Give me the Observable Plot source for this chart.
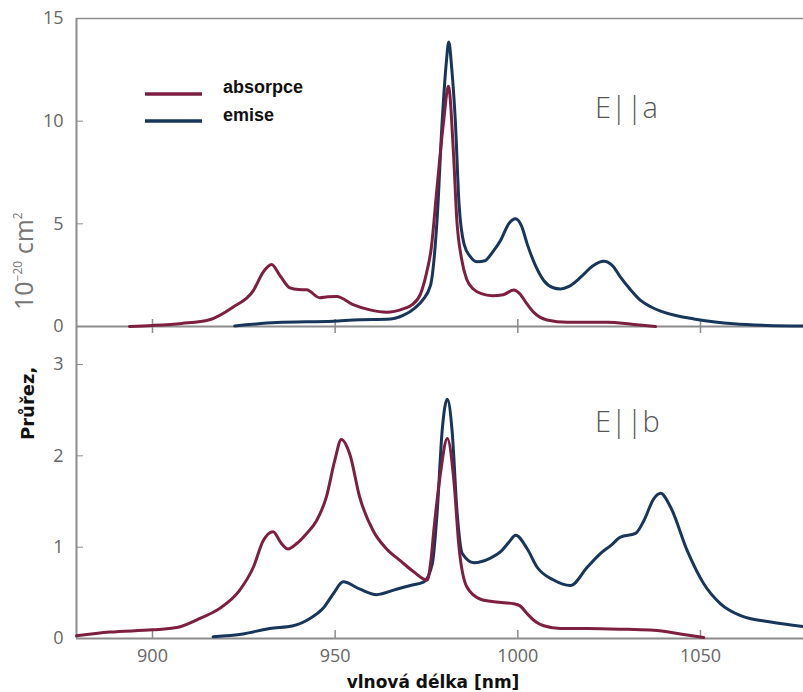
<!DOCTYPE html>
<html><head><meta charset="utf-8">
<script src="https://cdn.jsdelivr.net/npm/d3@7"></script>
<script src="https://cdn.jsdelivr.net/npm/@observablehq/plot@0.6"></script>
<style>
body{margin:0;background:#fff}
#wrap{position:relative;width:803px;height:692px;overflow:hidden;background:#fff}
#top,#bot{position:absolute;left:0}
#top{top:0}
#bot{top:326px}
#wrap svg{overflow:visible;background:transparent}
</style></head><body>
<div id="wrap">
  <div id="bot"></div>
  <div id="top"></div>
  <svg id="ov" width="803" height="692" style="position:absolute;left:0;top:0;pointer-events:none">
    <line x1="145" x2="202" y1="94" y2="94" stroke="#7d1f40" stroke-width="3.5"/>
    <line x1="145" x2="202" y1="121" y2="121" stroke="#17365a" stroke-width="3.5"/>
    <text x="223" y="93" font-family="Liberation Sans, Arial, sans-serif" font-weight="bold" font-size="18" fill="#111">absorpce</text>
    <text x="223" y="121" font-family="Liberation Sans, Arial, sans-serif" font-weight="bold" font-size="18" fill="#111">emise</text>
    <text x="595" y="118" font-family="Open Sans, sans-serif" font-weight="300" font-size="29" fill="#555">E||a</text>
    <text x="595" y="432" font-family="Open Sans, sans-serif" font-weight="300" font-size="29" fill="#555">E||b</text>
    <text transform="translate(34,440) rotate(-90)" font-family="DejaVu Sans, sans-serif" font-weight="bold" font-size="18" fill="#111">Průřez,</text>
    <text transform="translate(33,310) rotate(-90)" font-family="Open Sans, sans-serif" font-size="25" fill="#777">10<tspan font-size="12" dy="-11">−20</tspan><tspan dy="11"> cm</tspan><tspan font-size="12" dy="-11">2</tspan></text>
    <text x="433" y="688" text-anchor="middle" font-family="DejaVu Sans, sans-serif" font-weight="bold" font-size="17" fill="#111">vlnová délka [nm]</text>
  </svg>
</div>
<script>
// ---- data (wavelength nm, cross-section 1e-20 cm^2) ----
const xTicks = [900, 950, 1000, 1050];
const yTicksA = [0, 5, 10, 15];
const yTicksB = [0, 1, 2, 3];

// E||a absorption
const aAbsX = [893.7, 900, 908, 915.6, 922, 927.6, 930.3, 932.6, 934.9, 937.6, 940, 942.2, 945.8, 948, 950.4, 954.9, 959.5, 964.1, 968.6, 971, 973.4, 975, 976.3, 977.9, 979.7, 981.0, 982.4, 983.3, 984.6, 986, 988, 990, 993, 996, 998.9, 1000.5, 1002.5, 1004.3, 1008, 1013.5, 1024.5, 1031.7, 1037.7];
const aAbsY = [0.0, 0.05, 0.15, 0.33, 0.94, 1.75, 2.65, 3.02, 2.48, 1.88, 1.8, 1.79, 1.40, 1.45, 1.46, 1.07, 0.81, 0.70, 0.86, 1.05, 1.6, 2.6, 3.8, 6.8, 10.0, 11.7, 8.4, 5.2, 3.3, 2.3, 1.8, 1.6, 1.5, 1.55, 1.78, 1.6, 1.1, 0.70, 0.32, 0.21, 0.21, 0.10, 0.0];
// E||a emission
const aEmX = [922.5, 934, 949.5, 956.8, 964, 968.6, 971.8, 974, 976.1, 977.9, 979.3, 980.4, 981.1, 981.9, 982.9, 983.9, 985.3, 987, 988.9, 991, 993, 995.3, 997.5, 999.4, 1001, 1002.6, 1005, 1007.1, 1009.5, 1011.7, 1014, 1017.2, 1020.5, 1023.5, 1026, 1028.1, 1030.8, 1033.6, 1036.5, 1039.1, 1043.5, 1048.2, 1054, 1059.1, 1068.3, 1078.2];
const aEmY = [0.03, 0.19, 0.26, 0.33, 0.35, 0.54, 0.9, 1.3, 2.0, 5.2, 10.0, 12.8, 13.85, 12.6, 10.0, 6.0, 4.0, 3.4, 3.15, 3.2, 3.6, 4.2, 5.0, 5.25, 4.9, 4.0, 2.9, 2.24, 1.9, 1.83, 1.95, 2.4, 2.95, 3.18, 2.95, 2.4, 1.8, 1.27, 0.95, 0.75, 0.52, 0.37, 0.22, 0.13, 0.05, 0.02];
// E||b absorption
const bAbsX = [879.2, 888.3, 900, 906.6, 913, 918.4, 923.9, 927.6, 930.3, 933, 935.3, 937.1, 939.5, 942.2, 944.9, 947.6, 949.9, 951.7, 954, 956.7, 960.4, 964.1, 967.9, 971.5, 975.2, 976.2, 977, 978.8, 980.7, 982.5, 983.9, 986.1, 989.8, 994, 998.9, 1000.5, 1002.6, 1005, 1007.1, 1011.7, 1019, 1030, 1037.2, 1044.5, 1050.9];
const bAbsY = [0.03, 0.07, 0.095, 0.12, 0.22, 0.33, 0.53, 0.78, 1.07, 1.17, 1.04, 0.98, 1.04, 1.15, 1.29, 1.55, 1.95, 2.18, 2.02, 1.55, 1.18, 0.98, 0.85, 0.73, 0.64, 0.85, 1.18, 1.80, 2.19, 1.73, 1.0, 0.56, 0.43, 0.40, 0.38, 0.36, 0.27, 0.18, 0.14, 0.11, 0.11, 0.10, 0.09, 0.05, 0.01];
// E||b emission
const bEmX = [916.6, 924.8, 932.1, 938.5, 943.1, 946.7, 949.5, 952.2, 956.8, 961.3, 966.8, 970.6, 974.3, 976.6, 977.9, 979.3, 980.7, 982, 983.4, 984.8, 988, 992.5, 995.3, 997.5, 999.4, 1002.6, 1005.3, 1009.8, 1014.4, 1019, 1022.6, 1025.5, 1028.1, 1032.2, 1034.5, 1037.2, 1039.1, 1041.8, 1046.4, 1050.9, 1055.5, 1061, 1069.2, 1078.2];
const bEmY = [0.02, 0.05, 0.11, 0.14, 0.22, 0.33, 0.49, 0.62, 0.54, 0.48, 0.54, 0.58, 0.62, 0.82, 1.37, 2.28, 2.62, 2.28, 1.37, 0.93, 0.83, 0.88, 0.95, 1.05, 1.13, 0.98, 0.78, 0.64, 0.58, 0.78, 0.93, 1.02, 1.11, 1.15, 1.29, 1.53, 1.59, 1.44, 0.96, 0.6, 0.38, 0.25, 0.18, 0.13];

const zip = (xs, ys) => xs.map((x, i) => ({x, y: ys[i]}));

const xDomain = [879.2, 1078.2];
const COL_ABS = "#7d1f40", COL_EM = "#17365a";
const AXIS = "#8c8c8c", LABEL = "#666";
const FONT = "Open Sans, sans-serif";
const plain = d => String(d);

const lines = (abs, em) => [
  Plot.line(em, {x: "x", y: "y", stroke: COL_EM, strokeWidth: 3, curve: "monotone-x"}),
  Plot.line(abs, {x: "x", y: "y", stroke: COL_ABS, strokeWidth: 3, curve: "monotone-x"})
];

const plotA = Plot.plot({
  width: 803, height: 326,
  marginLeft: 76, marginRight: 0, marginTop: 18, marginBottom: 0,
  x: {domain: xDomain},
  y: {domain: [0, 15]},
  style: {background: "transparent", overflow: "visible", fontFamily: FONT, fontSize: "18px"},
  marks: [
    Plot.ruleY([15], {stroke: AXIS, strokeWidth: 1.5}),
    Plot.ruleY([0], {stroke: AXIS, strokeWidth: 2}),
    Plot.ruleX([xDomain[0]], {stroke: AXIS, strokeWidth: 2}),
    Plot.axisY({ticks: yTicksA, tickSize: -7, tickPadding: 20, tickFormat: plain, stroke: AXIS, fill: LABEL, fontSize: 18, label: null}),
    Plot.axisX({ticks: xTicks, tickSize: 7, tickFormat: () => "", stroke: AXIS, strokeWidth: 1.5, label: null}),
    Plot.axisX({ticks: xTicks, tickSize: -7, tickFormat: () => "", stroke: AXIS, strokeWidth: 1.5, label: null}),
    ...lines(zip(aAbsX, aAbsY), zip(aEmX, aEmY))
  ]
});
document.getElementById("top").append(plotA);

const yMaxB = 312 / (274 / 3);
const plotB = Plot.plot({
  width: 803, height: 366,
  marginLeft: 76, marginRight: 0, marginTop: 0, marginBottom: 54,
  x: {domain: xDomain},
  y: {domain: [0, yMaxB]},
  style: {background: "transparent", overflow: "visible", fontFamily: FONT, fontSize: "18px"},
  marks: [
    Plot.ruleY([0], {stroke: AXIS, strokeWidth: 2}),
    Plot.ruleX([xDomain[0]], {stroke: AXIS, strokeWidth: 2}),
    Plot.axisY({ticks: yTicksB, tickSize: -7, tickPadding: 20, tickFormat: plain, stroke: AXIS, fill: LABEL, fontSize: 18, label: null}),
    Plot.axisX({ticks: xTicks, tickSize: -8, tickPadding: 19, tickFormat: plain, stroke: AXIS, strokeWidth: 1.5, fill: LABEL, fontSize: 18, label: null}),
    ...lines(zip(bAbsX, bAbsY), zip(bEmX, bEmY))
  ]
});
document.getElementById("bot").append(plotB);
</script>
</body></html>
